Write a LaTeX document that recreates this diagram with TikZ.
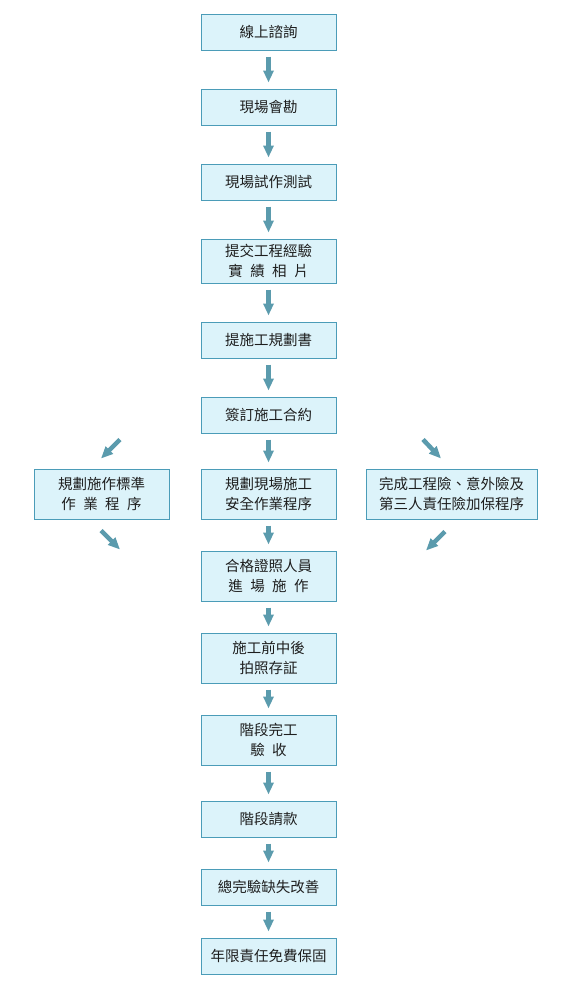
\documentclass[tikz,border=0pt]{standalone}
\usepackage{fontspec}
\setmainfont{Noto Sans CJK TC}[WordSpace=2.3]
\usepackage{tikz}
\usetikzlibrary{arrows.meta,calc,positioning}
\definecolor{boxfill}{HTML}{DCF3FA}
\definecolor{boxline}{HTML}{4B9CB8}
\definecolor{arrowc}{HTML}{5B9BAD}
\definecolor{txt}{HTML}{1E1E1E}

\begin{document}
\begin{tikzpicture}[x=1pt,y=-1pt,
  box/.style={draw=boxline,line width=1pt,fill=boxfill,text=txt,align=center,
    minimum width=135,minimum height=36,inner sep=0pt,
    font=\fontsize{14.5}{20}\selectfont},
  flow/.style={-{Triangle[width=10pt,length=12pt]},line width=4.5pt,draw=arrowc,
    shorten <=6pt,shorten >=6pt},
  diag/.style={-{Triangle[width=10pt,length=12pt]},line width=4.5pt,draw=arrowc}]
  \useasboundingbox (0,0) rectangle (568,988);
  % main column
  \node[box] (online) at (268.5,32) {線上諮詢};
  \node[box] (survey) at (268.5,107) {現場會勘};
  \node[box] (trial) at (268.5,182) {現場試作測試};
  \node[box,minimum height=44] (record) at (268.5,261) {提交工程經驗\\實 績 相 片};
  \node[box] (planbook) at (268.5,340) {提施工規劃書};
  \node[box] (contract) at (268.5,415) {簽訂施工合約};
  \node[box,minimum height=50] (safety) at (268.5,494) {規劃現場施工\\安全作業程序};
  \node[box,minimum height=50] (staff) at (268.5,576) {合格證照人員\\進 場 施 作};
  \node[box,minimum height=50] (photo) at (268.5,658) {施工前中後\\拍照存証};
  \node[box,minimum height=50] (stage) at (268.5,740) {階段完工\\驗 收};
  \node[box] (payment) at (268.5,819) {階段請款};
  \node[box] (fix) at (268.5,887) {總完驗缺失改善};
  \node[box] (warranty) at (268.5,956) {年限責任免費保固};
  % side boxes
  \node[box,minimum height=50] (stdproc) at (101.5,494) {規劃施作標準\\作 業 程 序};
  \node[box,minimum width=171,minimum height=50] (insure) at (451.5,494) {完成工程險、意外險及\\第三人責任險加保程序};

  \draw[flow] (online) -- (survey);
  \draw[flow] (survey) -- (trial);
  \draw[flow] (trial) -- (record);
  \draw[flow] (record) -- (planbook);
  \draw[flow] (planbook) -- (contract);
  \draw[flow] (contract) -- (safety);
  \draw[flow] (safety) -- (staff);
  \draw[flow] (staff) -- (photo);
  \draw[flow] (photo) -- (stage);
  \draw[flow] (stage) -- (payment);
  \draw[flow] (payment) -- (fix);
  \draw[flow] (fix) -- (warranty);

  % short slanted arrows by the side boxes
  \coordinate (lin) at ($(stdproc.north)+(18.5,-29)$);
  \coordinate (lintip) at ($(stdproc.north)+(-0.5,-10)$);
  \coordinate (lout) at ($(stdproc.south)+(-0.5,11)$);
  \coordinate (louttip) at ($(stdproc.south)+(18.5,30)$);
  \coordinate (rin) at ($(insure.north)+(-28.5,-29)$);
  \coordinate (rintip) at ($(insure.north)+(-10.5,-10)$);
  \coordinate (rout) at ($(insure.south)+(-6.5,12)$);
  \coordinate (routtip) at ($(insure.south)+(-25.5,31)$);
  \draw[diag] (lin) -- (lintip);
  \draw[diag] (lout) -- (louttip);
  \draw[diag] (rin) -- (rintip);
  \draw[diag] (rout) -- (routtip);
\end{tikzpicture}
\end{document}
